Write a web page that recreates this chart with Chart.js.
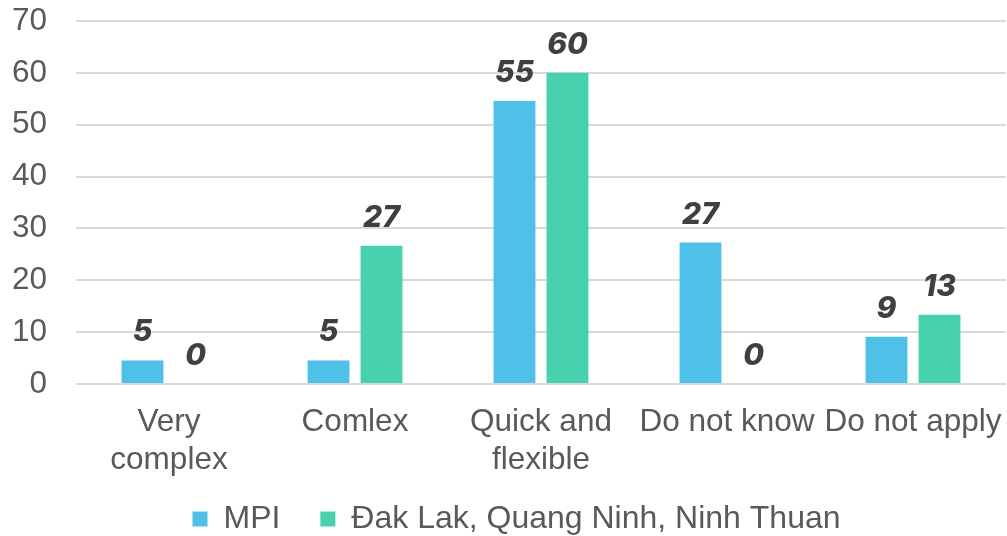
<!DOCTYPE html>
<html>
<head>
<meta charset="utf-8">
<script src="https://cdn.jsdelivr.net/npm/chart.js@4/dist/chart.umd.min.js"></script>
<style>
  html, body { margin: 0; padding: 0; background: #ffffff; }
  #wrap { width: 1007px; height: 536px; position: relative; }
</style>
</head>
<body>
<div id="wrap"><canvas id="chart"></canvas></div>
<script>
// Categories (multi-line labels as arrays)
const categories = [
  ['Very', 'complex'],
  'Comlex',
  ['Quick and', 'flexible'],
  'Do not know',
  'Do not apply'
];

// Series names
const seriesNames = ['MPI', 'Đak Lak, Quang Ninh, Ninh Thuan'];

// Shares of respondents (%)
const mpiValues = [4.55, 4.55, 54.55, 27.27, 9.09];
const provinceValues = [0, 26.67, 60, 0, 13.33];

// Y axis ticks
const yTicks = [0, 10, 20, 30, 40, 50, 60, 70];

const BLUE = '#4FC0E8';
const GREEN = '#48D1AE';
const AXIS_FONT = 'Liberation Sans, Arial, sans-serif';

// Value labels above each bar, rounded to whole numbers
const valueLabels = {
  id: 'valueLabels',
  afterDatasetsDraw(chart) {
    const ctx = chart.ctx;
    ctx.save();
    ctx.font = 'italic 800 30px Inter, "Open Sans", sans-serif';
    ctx.fillStyle = '#404040';
    ctx.textAlign = 'center';
    ctx.textBaseline = 'alphabetic';
    chart.data.datasets.forEach((ds, di) => {
      const meta = chart.getDatasetMeta(di);
      meta.data.forEach((bar, i) => {
        const v = ds.data[i];
        ctx.fillText(String(Math.round(v)), bar.x, bar.y - 19);
      });
    });
    ctx.restore();
  }
};

new Chart(document.getElementById('chart'), {
  type: 'bar',
  data: {
    labels: categories,
    datasets: [
      { label: seriesNames[0], data: mpiValues, backgroundColor: BLUE },
      { label: seriesNames[1], data: provinceValues, backgroundColor: GREEN }
    ]
  },
  options: {
    responsive: true,
    maintainAspectRatio: false,
    animation: false,
    layout: { padding: { top: 0, left: 12, right: -14, bottom: -9 } },
    datasets: {
      bar: { categoryPercentage: 0.57, barPercentage: 0.79 }
    },
    scales: {
      x: {
        grid: { display: false, drawTicks: false },
        border: { display: false },
        ticks: {
          color: '#595959',
          font: { family: AXIS_FONT, size: 31.5 },
          // mirrored labels flipped below the axis (keeps them unclipped)
          mirror: true,
          padding: -57,
          maxRotation: 0,
          autoSkip: false
        },
        afterFit(scale) {
          scale.height = 79;
          scale.paddingLeft = 0;
          scale.paddingRight = 1;
        }
      },
      y: {
        min: 0,
        max: 70,
        afterBuildTicks(scale) { scale.ticks = yTicks.map(v => ({ value: v })); },
        grid: { color: '#D9D9D9', lineWidth: 2, drawTicks: false },
        border: { display: false },
        ticks: {
          color: '#595959',
          font: { family: AXIS_FONT, size: 31.5 },
          padding: 29
        },
        afterFit(scale) {
          scale.width = 64;
          scale.paddingTop = 21;
          scale.paddingBottom = 0;
        }
      }
    },
    plugins: {
      legend: {
        position: 'bottom',
        labels: {
          color: '#595959',
          font: { family: AXIS_FONT, size: 32 },
          boxWidth: 15,
          boxHeight: 15,
          padding: 40
        }
      },
      tooltip: { enabled: false }
    }
  },
  plugins: [valueLabels]
});
</script>
</body>
</html>
